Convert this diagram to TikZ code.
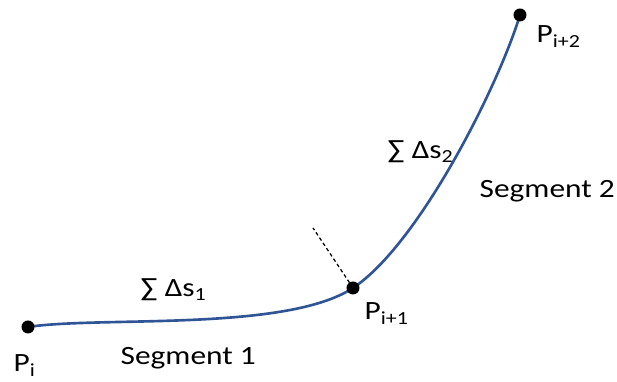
\documentclass[tikz,border=0pt]{standalone}
\usepackage{fontspec}
\setmainfont{Carlito}[FakeStretch=1.19]
\definecolor{CurveBlue}{RGB}{47,85,151}
\usetikzlibrary{positioning}

\begin{document}
\begin{tikzpicture}[
        font=\fontsize{7.5}{9}\selectfont,
        curve/.style={draw=CurveBlue, line width=0.75pt},
        dot/.style={circle, fill=black, inner sep=0pt, minimum size=3.7pt},
        lbl/.style={inner sep=0pt, anchor=base west},
        normal/.style={dash pattern=on 1pt off 0.8pt, line width=0.35pt}
      ]
        \useasboundingbox (0,0) rectangle (6.17,3.82);
        % points on the path
        \coordinate (p0) at (0.28,0.55);
        \coordinate (p1) at (3.53,0.94);
        \coordinate (p2) at (5.20,3.67);
        \coordinate (n1) at (3.13,1.54);
        % the two segments
        \draw[normal] (p1) -- (n1);
        \draw[curve] (p0) .. controls (1.0,0.66) and (2.86,0.50) .. (p1);
        \draw[curve] (p1) .. controls (4.19,1.38) and (4.98,2.95) .. (p2);
        \node[dot] (d0) at (p0) {};
        \node[dot] (d1) at (p1) {};
        \node[dot] (d2) at (p2) {};
        % labels
        \node[lbl] (l0) at (0.13,0.10) {P\textsubscript{i}};
        \node[lbl] (l1) at (3.64,0.62) {P\textsubscript{i+1}};
        \node[lbl] (l2) at (5.36,3.39) {P\textsubscript{i+2}};
        \node[lbl] (g1) at (1.20,0.17) {Segment 1};
        \node[lbl] (g2) at (4.79,1.84) {Segment 2};
        \node[lbl] (s1) at (1.40,0.85) {∑ Δs\textsubscript{1}};
        \node[lbl] (s2) at (3.87,2.23) {∑ Δs\textsubscript{2}};
      \end{tikzpicture}
\end{document}
